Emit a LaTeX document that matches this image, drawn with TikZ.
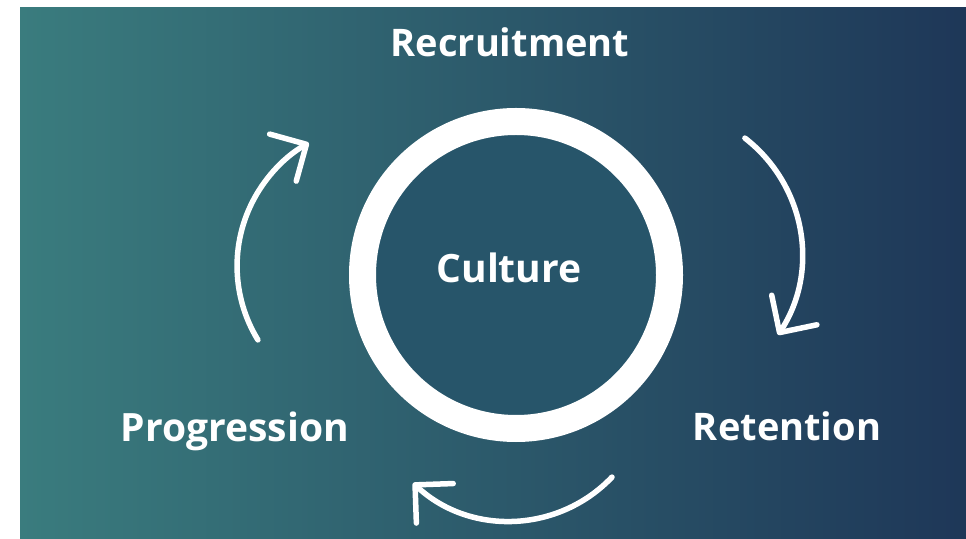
\documentclass[tikz,border=0pt]{standalone}
\usepackage{fontspec}
\setmainfont{Open Sans}
\usepackage{xcolor}
\usetikzlibrary{arrows.meta, positioning}
\definecolor{tealleft}{HTML}{3A7C7E}
\definecolor{navyright}{HTML}{1E3758}
\definecolor{corefill}{HTML}{27556A}

\tikzset{
  stage/.style={text=white, font=\fontsize{39}{42}\selectfont\bfseries, anchor=base, inner sep=0pt},
  cyclearrow/.style={draw=white, line width=5.5pt, line cap=round, -{Straight Barb[length=27pt, width=54pt, round]}}
}

\begin{document}
\begin{tikzpicture}[x=1pt, y=1pt]
  \useasboundingbox (0,0) rectangle (966,538);

  % Background gradient
  \shade[left color=tealleft, right color=navyright] (20,0) rectangle (966,530);

  % Central ring
  \node[circle, draw=white, line width=27pt, fill=corefill, minimum size=307pt, inner sep=0pt] (core) at (516,263) {};
  \node[stage] (culture) at (509,255) {Culture};

  % Stage labels
  \node[stage, font=\fontsize{38}{41}\selectfont\bfseries] (recruit) at (510,481) {Recruitment};
  \node[stage, font=\fontsize{38}{41}\selectfont\bfseries] (retain) at (787,97) {Retention};
  \node[stage] (progress) at (235,96) {Progression};

  % Cycle arrows
  \coordinate (downstart) at (744.9,399.9);
  \coordinate (backstart) at (612,60.9);
  \coordinate (upstart) at (257.9,198.1);
  \draw[cyclearrow] (downstart) arc[start angle=52.3, end angle=-33.2, radius=147pt];
  \draw[cyclearrow] (backstart) arc[start angle=-43.6, end angle=-133, radius=141.5pt];
  \draw[cyclearrow] (upstart) arc[start angle=211.5, end angle=119.5, radius=141.4pt];
\end{tikzpicture}
\end{document}
